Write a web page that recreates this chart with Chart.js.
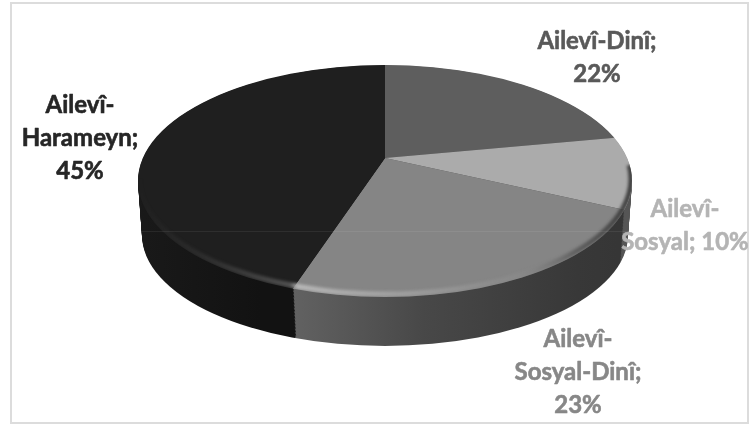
<!DOCTYPE html>
<html>
<head>
<meta charset="utf-8">
<style>
  html, body { margin: 0; padding: 0; background: #fff; }
  canvas { display: block; }
</style>
<script src="https://cdn.jsdelivr.net/npm/chart.js@4"></script>
</head>
<body>
<canvas id="pieChart" width="751" height="428"></canvas>
<script>
const categories = ["Ailevî-Dinî", "Ailevî-Sosyal", "Ailevî-Sosyal-Dinî", "Ailevî-Harameyn"];
const percentages = [22, 10, 23, 45];
const faceColors = ["#5e5e5e", "#ababab", "#858585", "#1f1f1f"];
const labelColors = ["#595959", "#b4b4b4", "#878787", "#262626"];
const labelLines = [
  ["Ailevî-Dinî;", "22%"],
  ["Ailevî-", "Sosyal; 10%"],
  ["Ailevî-", "Sosyal-Dinî;", "23%"],
  ["Ailevî-", "Harameyn;", "45%"],
];
const labelSpots = [
  { x: 597, y: 41 },
  { x: 685, y: 209 },
  { x: 578, y: 339 },
  { x: 80, y: 105 },
];

// the picture has the slices meeting above the middle of the top ellipse
const tip = { x: 385, y: 158 };
const squash = 0.46;
const top3d = { x: 385, y: 181, rx: 247, ry: 116 };
const bottom3d = { x: 385, y: 235, rx: 243, ry: 111 };
const drop = 53;

function hGrad(ctx, stops) {
  const g = ctx.createLinearGradient(137, 0, 632, 0);
  stops.forEach((s) => g.addColorStop((s[0] - 137) / 495, s[1]));
  return g;
}

function ellipsePath(ctx, e) {
  ctx.beginPath();
  ctx.ellipse(e.x, e.y, e.rx, e.ry, 0, 0, Math.PI * 2);
}

const pie3d = {
  id: "pie3d",
  beforeDraw(chart) {
    const ctx = chart.ctx;
    ctx.save();
    ctx.fillStyle = "#fff";
    ctx.fillRect(0, 0, 751, 428);
    ctx.strokeStyle = "#dcdcdc";
    ctx.lineWidth = 2;
    ctx.strokeRect(11, 3, 737, 420);
    ctx.restore();
  },
  beforeDatasetsDraw(chart) {
    const ctx = chart.ctx;
    const arcs = chart.getDatasetMeta(0).data;
    const first = arcs[0];
    const s = 330 / first.outerRadius;

    const sides = [
      "#4a4a4a",
      hGrad(ctx, [[137, "#555"], [632, "#555"]]),
      hGrad(ctx, [[295, "#686868"], [400, "#484848"], [500, "#383838"], [632, "#2e2e2e"]]),
      hGrad(ctx, [[137, "#222"], [220, "#191919"], [295, "#121212"]]),
    ];

    const drawArcs = (dy, colors) => {
      ctx.save();
      ctx.translate(tip.x, tip.y + dy);
      ctx.scale(s, s * squash);
      ctx.translate(-first.x, -first.y);
      arcs.forEach((arc, i) => {
        const keep = arc.options;
        if (colors) arc.options = Object.assign({}, keep, { backgroundColor: colors[i] });
        arc.draw(ctx);
        arc.options = keep;
      });
      ctx.restore();
    };

    // side wall, back to front
    for (let d = drop; d > 0; d -= 1.5) {
      const t = d / drop;
      ctx.save();
      ellipsePath(ctx, {
        x: top3d.x,
        y: top3d.y + (bottom3d.y - top3d.y) * t,
        rx: top3d.rx + (bottom3d.rx - top3d.rx) * t,
        ry: top3d.ry + (bottom3d.ry - top3d.ry) * t,
      });
      ctx.clip();
      drawArcs(d, sides);
      ctx.restore();
    }

    // top face
    ctx.save();
    ellipsePath(ctx, top3d);
    ctx.clip();
    drawArcs(0, null);

    // soft bevel along the front rim
    ctx.filter = "blur(1.6px)";
    ctx.lineWidth = 5;
    ctx.strokeStyle = hGrad(ctx, [
      [137, "rgba(70,70,70,0)"],
      [200, "rgba(70,70,70,0.35)"],
      [290, "rgba(95,95,95,0.8)"],
      [297, "rgba(190,190,190,0.9)"],
      [430, "rgba(165,165,165,0.65)"],
      [520, "rgba(150,150,150,0.25)"],
      [575, "rgba(60,60,60,0.5)"],
      [632, "rgba(55,55,55,0.95)"],
    ]);
    ctx.beginPath();
    ctx.ellipse(top3d.x, top3d.y - 2, top3d.rx - 1, top3d.ry - 1, 0, -0.12, Math.PI);
    ctx.stroke();
    ctx.restore();

    // thin seam that runs across the reference
    ctx.save();
    ctx.strokeStyle = "rgba(255,255,255,0.07)";
    ctx.lineWidth = 1;
    ctx.beginPath();
    ctx.moveTo(139, 231.5);
    ctx.lineTo(630, 231.5);
    ctx.stroke();
    ctx.restore();

    return false;
  },
  afterDraw(chart) {
    const ctx = chart.ctx;
    ctx.save();
    ctx.font = "bold 24px Lato, Carlito, sans-serif";
    ctx.textAlign = "center";
    ctx.textBaseline = "middle";
    ctx.lineWidth = 0.6;
    ctx.lineJoin = "round";
    labelLines.forEach((lines, i) => {
      ctx.fillStyle = labelColors[i];
      ctx.strokeStyle = labelColors[i];
      lines.forEach((line, j) => {
        ctx.fillText(line, labelSpots[i].x, labelSpots[i].y + j * 33);
        ctx.strokeText(line, labelSpots[i].x, labelSpots[i].y + j * 33);
      });
    });
    ctx.restore();
  },
};

new Chart(document.getElementById("pieChart").getContext("2d"), {
  type: "pie",
  data: {
    labels: categories,
    datasets: [
      {
        data: percentages,
        backgroundColor: faceColors,
        borderWidth: 0,
      },
    ],
  },
  options: {
    responsive: false,
    animation: false,
    plugins: {
      legend: { display: false },
      tooltip: { enabled: false },
    },
  },
  plugins: [pie3d],
});
</script>
</body>
</html>
